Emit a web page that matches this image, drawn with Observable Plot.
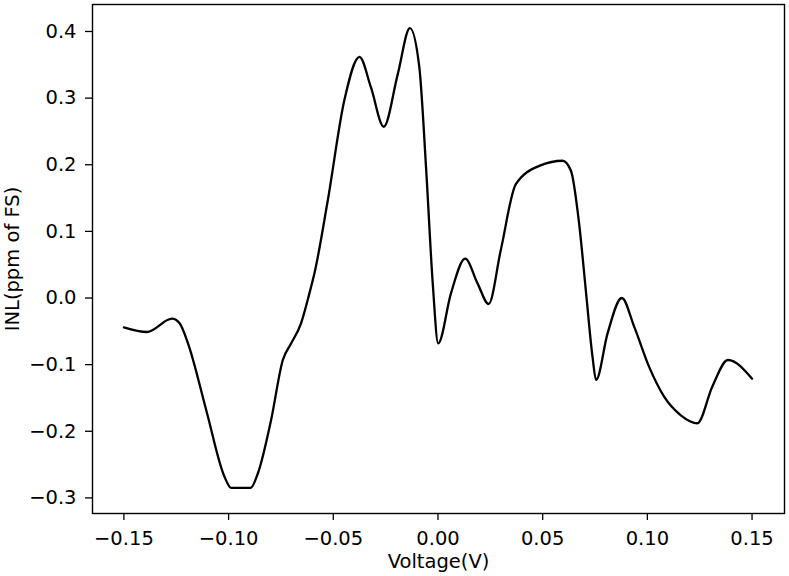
<!DOCTYPE html>
<html>
<head>
<meta charset="utf-8">
<script src="https://cdn.jsdelivr.net/npm/d3@7"></script>
<script src="https://cdn.jsdelivr.net/npm/@observablehq/plot@0.6"></script>
<style>
  html, body { margin: 0; padding: 0; background: #ffffff; }
  #chart { width: 789px; height: 576px; }
</style>
</head>
<body>
<div id="chart"></div>
<script>
const voltage = [
  -0.150, -0.139, -0.127, -0.1234, -0.1194, -0.1107, -0.102, -0.0988, -0.0895, -0.086,
  -0.0797, -0.0741, -0.0701, -0.0654, -0.0614, -0.059, -0.0526, -0.0447, -0.0375, -0.032,
  -0.0259, -0.0192, -0.0134, -0.0089, -0.0057, -0.0025, 0.0001, 0.0062, 0.013, 0.0189,
  0.0242, 0.030, 0.0372, 0.049, 0.0595, 0.0635, 0.0674, 0.0706, 0.0738, 0.0755,
  0.081, 0.0878, 0.0937, 0.1008, 0.108, 0.116, 0.1239, 0.131, 0.1385, 0.150
];
const inl = [
  -0.044, -0.051, -0.031, -0.038, -0.068, -0.168, -0.268, -0.285, -0.285, -0.263,
  -0.183, -0.093, -0.068, -0.038, 0.007, 0.037, 0.147, 0.297, 0.362, 0.316,
  0.257, 0.336, 0.405, 0.346, 0.196, 0.022, -0.068, 0.007, 0.059, 0.022,
  -0.009, 0.072, 0.171, 0.199, 0.206, 0.191, 0.112, 0.012, -0.088, -0.123,
  -0.053, 0.000, -0.043, -0.103, -0.148, -0.176, -0.188, -0.133, -0.093, -0.121
];
const xTicks = [-0.15, -0.10, -0.05, 0.00, 0.05, 0.10, 0.15];
const yTicks = [-0.3, -0.2, -0.1, 0.0, 0.1, 0.2, 0.3, 0.4];

const data = voltage.map((v, i) => ({v, y: inl[i]}));
const tickFont = 19.5;

const chart = Plot.plot({
  width: 789,
  height: 576,
  marginLeft: 92,
  marginRight: 5,
  marginTop: 4,
  marginBottom: 63,
  style: {fontFamily: "DejaVu Sans", fontSize: "18px", color: "#000", background: "#fff"},
  x: {domain: [-0.165, 0.1655]},
  y: {domain: [-0.3234, 0.4405]},
  marks: [
    Plot.frame({stroke: "#000", strokeWidth: 1.4}),
    Plot.axisX({ticks: xTicks, tickSize: 7, strokeWidth: 1.3, text: null, label: null}),
    Plot.axisY({ticks: yTicks, tickSize: 7, strokeWidth: 1.3, text: null, label: null}),
    Plot.text(xTicks, {x: d => d, frameAnchor: "bottom", dy: 18, lineAnchor: "top",
      text: d => d3.format(".2f")(d), fontSize: tickFont, fill: "#000"}),
    Plot.text(yTicks, {y: d => d, frameAnchor: "left", dx: -16, textAnchor: "end",
      text: d => d3.format(".1f")(d), fontSize: tickFont, fill: "#000"}),
    Plot.text(["Voltage(V)"], {frameAnchor: "bottom", dy: 48, lineAnchor: "middle", fontSize: 19.5, fill: "#000"}),
    Plot.text(["INL(ppm of FS)"], {frameAnchor: "left", dx: -80, rotate: -90, textAnchor: "middle", fontSize: 19.5, fill: "#000"}),
    Plot.line(data, {x: "v", y: "y", stroke: "#000", strokeWidth: 2.3, curve: "monotone-x"})
  ]
});
document.getElementById("chart").appendChild(chart);
</script>
</body>
</html>
